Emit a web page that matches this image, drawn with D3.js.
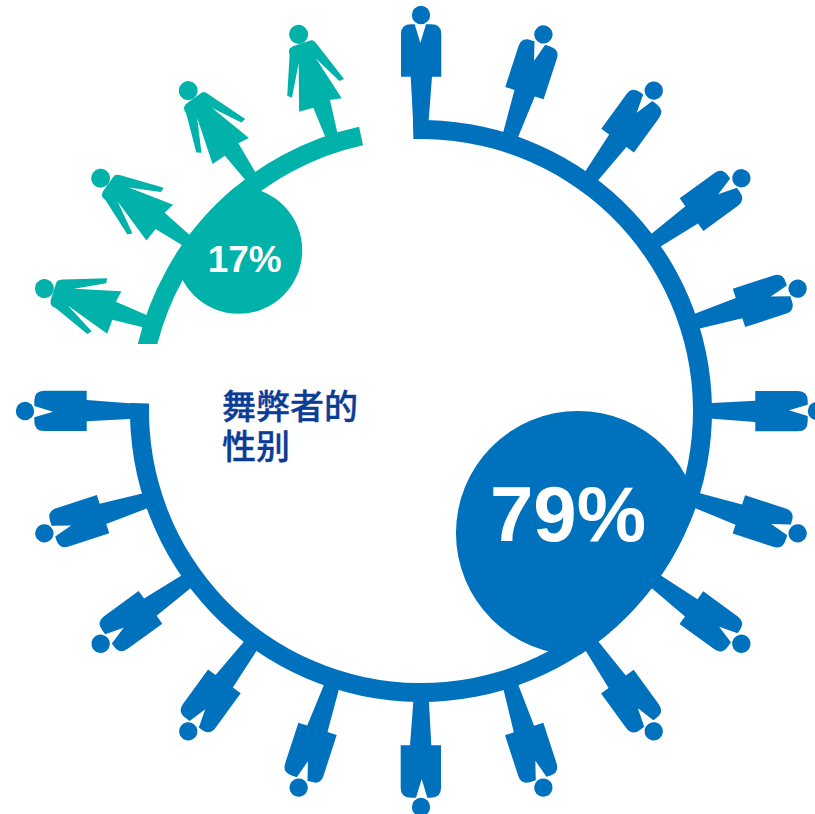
<!DOCTYPE html>
<html lang="zh">
<head>
<meta charset="utf-8">
<title>舞弊者的性别</title>
<script src="https://cdn.jsdelivr.net/npm/d3@7/dist/d3.min.js"></script>
<style>
  html, body { margin: 0; padding: 0; background: #fff; overflow: hidden; }
  svg { display: block; }
</style>
</head>
<body>
<script>
// Gender of fraudsters: a ring of pictograms with a share bubble per group.
const categories = ["男性", "女性"];
const shares = [79, 17];
const figureCounts = [16, 4];
const titleLines = ["舞弊者的", "性别"];

const width = 815, height = 814;
const centre = { x: 421, y: 411 };
const ring = { inner: 272, outer: 291 };
const colours = { "男性": "#0071bc", "女性": "#00b2a9", title: "#0b3c96" };

// Ring segments start a little before the first figure and run a little past the last.
const overhang = { "男性": [-1.6, 1.6], "女性": [-5, 5.7] };
// The lower end of the green segment is cut level rather than along a radius.
const segmentFloor = { "男性": 0, "女性": -67 };
// Bubble placement in polar form around the ring centre: degrees clockwise from top, distance.
const bubblePlace = { "男性": [127.85, 198.8], "女性": [311.4, 243] };
const labelStyle = {
  "男性": { size: 78, dx: -10, dy: 8.5 },
  "女性": { size: 37, dx: 6, dy: 21.2 }
};

// Figures are drawn standing on the top of the ring; each one is then rotated into place.
const manBody = "M-20,-334.3 L-20,-377 Q-20,-386.7 -10,-386.7 L-6.3,-386.7 L-0.7,-368 L5,-386.7 " +
  "L10.3,-386.7 Q20.3,-386.7 20.3,-377 L20.3,-334.3 L11,-334.3 L7,-282 L-7.5,-282 L-10.3,-334.3 Z";
const womanBody = "M-12.5,-385.4 Q-9,-387 -5.1,-386.5 L9.9,-386.5 Q13,-386 14.7,-380 L29.4,-339.5 L24.3,-339 " +
  "L9.1,-367.8 L21.2,-321.9 L9.6,-323.9 L5.6,-282 L-5.7,-282 L-8.7,-321.7 L-23.5,-322.3 L-8.9,-368.5 " +
  "L-25.9,-337.9 L-29.8,-341.2 L-15,-379 Q-15,-384 -12.5,-385.4 Z";
const headRadius = { "男性": 9.2, "女性": 9.5 };
const headDistance = 396;

const totalFigures = d3.sum(figureCounts);
const angle = d3.scaleLinear().domain([0, totalFigures]).range([0, 360]);
const radians = d => d * Math.PI / 180;
const bubbleRadius = d3.scaleLinear().domain(d3.extent(shares)).range([63.5, 122]);

const svg = d3.select("body").append("svg")
  .attr("width", width).attr("height", height)
  .attr("viewBox", `0 0 ${width} ${height}`);

// Bubbles never spill past the outer edge of the ring.
const defs = svg.append("defs");
defs.append("clipPath").attr("id", "ring-disc")
  .append("circle").attr("r", ring.outer);
defs.append("clipPath").attr("id", "level-cut")
  .append("rect")
  .attr("x", -ring.outer).attr("width", ring.outer * 2)
  .attr("y", -ring.outer).attr("height", ring.outer + segmentFloor["女性"]);

const root = svg.append("g").attr("transform", `translate(${centre.x},${centre.y})`);
const arc = d3.arc().innerRadius(ring.inner).outerRadius(ring.outer);

let cursor = 0;
categories.forEach((category, i) => {
  const count = figureCounts[i];
  const first = cursor, last = cursor + count - 1;
  cursor += count;
  const colour = colours[category];
  const g = root.append("g").attr("class", "group");

  // Ring segment under this group's figures
  const segment = g.append("path")
    .attr("d", arc({
      startAngle: radians(angle(first) + overhang[category][0]),
      endAngle: radians(angle(last) + overhang[category][1])
    }))
    .attr("fill", colour);
  if (segmentFloor[category] !== 0) segment.attr("clip-path", "url(#level-cut)");

  // One figure per unit, each rotated to its slot
  const people = g.selectAll("g.figure")
    .data(d3.range(first, last + 1))
    .join("g")
    .attr("class", "figure")
    .attr("transform", d => `rotate(${angle(d)})`)
    .attr("fill", colour);
  people.append("path").attr("d", category === "男性" ? manBody : womanBody);
  people.append("circle").attr("cx", 0).attr("cy", -headDistance).attr("r", headRadius[category]);

  // Share bubble and its label
  const [bearing, dist] = bubblePlace[category];
  const bx = dist * Math.sin(radians(bearing));
  const by = -dist * Math.cos(radians(bearing));
  g.append("circle").attr("cx", bx).attr("cy", by)
    .attr("r", bubbleRadius(shares[i]))
    .attr("clip-path", "url(#ring-disc)")
    .attr("fill", colour);
  const style = labelStyle[category];
  g.append("text")
    .attr("x", bx + style.dx).attr("y", by + style.dy)
    .attr("text-anchor", "middle")
    .attr("fill", "#fff")
    .attr("font-family", "'Liberation Sans', Arial, sans-serif")
    .attr("font-weight", 700)
    .attr("font-size", style.size)
    .text(shares[i] + "%");
});

// Chart title inside the ring
svg.append("text")
  .attr("fill", colours.title)
  .attr("stroke", colours.title)
  .attr("stroke-width", 0.35)
  .attr("font-family", "'Noto Sans CJK SC', sans-serif")
  .attr("font-weight", 500)
  .attr("font-size", 34)
  .selectAll("tspan")
  .data(titleLines)
  .join("tspan")
  .attr("x", 222)
  .attr("y", (d, i) => 418.5 + i * 40.5)
  .text(d => d);
</script>
</body>
</html>
